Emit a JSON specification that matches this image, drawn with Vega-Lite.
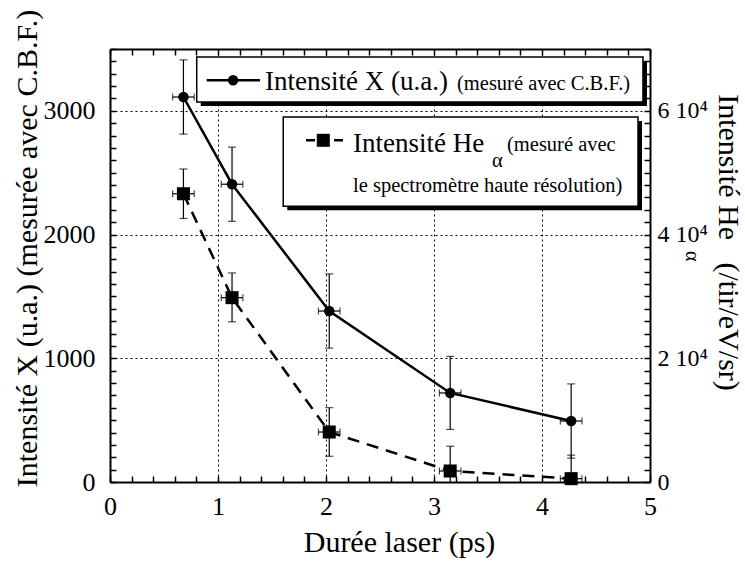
{
  "$schema": "https://vega.github.io/schema/vega-lite/v6.json",
  "width": 540,
  "height": 433,
  "autosize": {"type": "none"},
  "padding": {"left": 110, "top": 49, "right": 95, "bottom": 79},
  "background": "white",
  "config": {
    "font": "Liberation Serif",
    "view": {"stroke": null},
    "axis": {
      "labelFont": "Liberation Serif",
      "titleFont": "Liberation Serif",
      "labelColor": "black",
      "titleColor": "black",
      "titleFontWeight": "normal",
      "domainColor": "black",
      "domainWidth": 2,
      "tickColor": "black",
      "tickWidth": 1.5,
      "labelOverlap": false,
      "labelFlush": false,
      "labelBound": false
    }
  },
  "datasets": {
    "xray": [
      {"x": 0.68, "y": 3112}, {"x": 1.13, "y": 2407}, {"x": 2.03, "y": 1382}, {"x": 3.15, "y": 720}, {"x": 4.27, "y": 493}
    ],
    "xray_v": [
      {"x": 0.68, "y": 2812, "y2": 3412}, {"x": 1.13, "y": 2107, "y2": 2707}, {"x": 2.03, "y": 1082, "y2": 1682},
      {"x": 3.15, "y": 425, "y2": 1015}, {"x": 4.27, "y": 193, "y2": 793}
    ],
    "xray_vcaps": [
      {"x": 0.68, "y": 2812}, {"x": 0.68, "y": 3412}, {"x": 1.13, "y": 2107}, {"x": 1.13, "y": 2707},
      {"x": 2.03, "y": 1082}, {"x": 2.03, "y": 1682}, {"x": 3.15, "y": 425}, {"x": 3.15, "y": 1015},
      {"x": 4.27, "y": 193}, {"x": 4.27, "y": 793}
    ],
    "xray_h": [
      {"x": 0.58, "x2": 0.78, "y": 3112}, {"x": 1.03, "x2": 1.23, "y": 2407}, {"x": 1.93, "x2": 2.13, "y": 1382},
      {"x": 3.05, "x2": 3.25, "y": 720}, {"x": 4.17, "x2": 4.37, "y": 493}
    ],
    "xray_hcaps": [
      {"x": 0.58, "y": 3112}, {"x": 0.78, "y": 3112}, {"x": 1.03, "y": 2407}, {"x": 1.23, "y": 2407},
      {"x": 1.93, "y": 1382}, {"x": 2.13, "y": 1382}, {"x": 3.05, "y": 720}, {"x": 3.25, "y": 720},
      {"x": 4.17, "y": 493}, {"x": 4.37, "y": 493}
    ],
    "hea": [
      {"x": 0.68, "y": 46600}, {"x": 1.13, "y": 29800}, {"x": 2.03, "y": 8080}, {"x": 3.15, "y": 1780}, {"x": 4.27, "y": 540}
    ],
    "hea_v": [
      {"x": 0.68, "y": 42600, "y2": 50600}, {"x": 1.13, "y": 25900, "y2": 33800}, {"x": 2.03, "y": 4160, "y2": 12020},
      {"x": 3.15, "y": -2200, "y2": 5780}, {"x": 4.27, "y": -3260, "y2": 4340}
    ],
    "hea_vcaps": [
      {"x": 0.68, "y": 42600}, {"x": 0.68, "y": 50600}, {"x": 1.13, "y": 25900}, {"x": 1.13, "y": 33800},
      {"x": 2.03, "y": 4160}, {"x": 2.03, "y": 12020}, {"x": 3.15, "y": 5780}, {"x": 4.27, "y": 4340}
    ],
    "hea_h": [
      {"x": 0.58, "x2": 0.78, "y": 46600}, {"x": 1.03, "x2": 1.23, "y": 29800}, {"x": 1.93, "x2": 2.13, "y": 8080},
      {"x": 3.05, "x2": 3.25, "y": 1780}, {"x": 4.17, "x2": 4.37, "y": 540}
    ],
    "hea_hcaps": [
      {"x": 0.58, "y": 46600}, {"x": 0.78, "y": 46600}, {"x": 1.03, "y": 29800}, {"x": 1.23, "y": 29800},
      {"x": 1.93, "y": 8080}, {"x": 2.13, "y": 8080}, {"x": 3.05, "y": 1780}, {"x": 3.25, "y": 1780},
      {"x": 4.17, "y": 540}, {"x": 4.37, "y": 540}
    ],
    "boxes": [
      {"box": "shadow1", "x": 0.84, "x2": 4.972, "y": 3040, "y2": 3404},
      {"box": "shadow2", "x": 1.641, "x2": 4.926, "y": 2197, "y2": 2919}
    ],
    "frames": [
      {"box": "frame1", "x": 0.803, "x2": 4.935, "y": 3072, "y2": 3436},
      {"box": "frame2", "x": 1.604, "x2": 4.889, "y": 2229, "y2": 2951}
    ],
    "keylines": [{"series": "X", "x": 0.895, "x2": 1.389, "y": 3247}],
    "keydash": [{"series": "He", "x": 1.815, "x2": 2.176, "y": 2762}],
    "keycircle": [{"series": "X", "x": 1.14, "y": 3247}],
    "keysquare": [{"series": "He", "x": 1.975, "y": 2762}],
    "bigtext": [
      {"t": "Intensité X (u.a.)", "x": 1.435, "y": 3166},
      {"t": "Intensité He", "x": 2.25, "y": 2668}
    ],
    "smalltext": [
      {"t": "(mesuré avec C.B.F.)", "x": 3.213, "y": 3170},
      {"t": "(mesuré avec", "x": 3.676, "y": 2673},
      {"t": "le spectromètre haute résolution)", "x": 2.25, "y": 2344},
      {"t": "α", "x": 3.537, "y": 2544}
    ],
    "alpha": [{"t": "α", "x": 5.389, "y": 1824}]
  },
  "layer": [
    {
      "data": {"name": "xray"},
      "encoding": {
        "x": {
          "field": "x", "type": "quantitative",
          "scale": {"domain": [0, 5], "nice": false, "zero": false},
          "axis": {
            "orient": "bottom",
            "values": [0,0.2,0.4,0.6,0.8,1,1.2,1.4,1.6,1.8,2,2.2,2.4,2.6,2.8,3,3.2,3.4,3.6,3.8,4,4.2,4.4,4.6,4.8,5],
            "labelExpr": "datum.value % 1 === 0 ? ('' + datum.value) : ''",
            "tickSize": -6,
            "labelPadding": 17,
            "labelFontSize": 26,
            "grid": true,
            "gridDash": [2, 3],
            "gridColor": "black",
            "gridWidth": 1,
            "gridOpacity": {"condition": {"test": "datum.value % 1 === 0 && datum.value > 0 && datum.value < 5", "value": 1}, "value": 0},
            "title": "Durée laser (ps)",
            "titleFontSize": 30,
            "titleX": 289,
            "titleY": 60,
            "titleAlign": "center",
            "titleBaseline": "middle"
          }
        },
        "y": {
          "field": "y", "type": "quantitative",
          "scale": {"domain": [0, 3500], "nice": false, "zero": false},
          "axis": {
            "orient": "left",
            "values": [0,100,200,300,400,500,600,700,800,900,1000,1100,1200,1300,1400,1500,1600,1700,1800,1900,2000,2100,2200,2300,2400,2500,2600,2700,2800,2900,3000,3100,3200,3300,3400,3500],
            "labelExpr": "datum.value % 1000 === 0 ? ('' + datum.value) : ''",
            "tickSize": -6,
            "labelPadding": 21,
            "labelFontSize": 26,
            "grid": true,
            "gridDash": [2, 3],
            "gridColor": "black",
            "gridWidth": 1,
            "gridOpacity": {"condition": {"test": "datum.value % 1000 === 0 && datum.value > 0", "value": 1}, "value": 0},
            "title": "Intensité X (u.a.) (mesurée avec C.B.F.)",
            "titleFontSize": 30,
            "titleAngle": 270,
            "titleX": -83,
            "titleY": 199,
            "titleAlign": "center",
            "titleBaseline": "middle"
          }
        }
      },
      "layer": [
        {"mark": {"type": "line", "color": "black", "strokeWidth": 2.5}},
        {"data": {"name": "xray_v"},
         "mark": {"type": "rule", "color": "black", "strokeWidth": 1.2, "clip": true},
         "encoding": {"y2": {"field": "y2"}}},
        {"data": {"name": "xray_h"},
         "mark": {"type": "rule", "color": "black", "strokeWidth": 1.2},
         "encoding": {"x2": {"field": "x2"}}},
        {"data": {"name": "xray_vcaps"},
         "mark": {"type": "tick", "orient": "horizontal", "color": "black", "size": 8, "thickness": 1.2, "clip": true}},
        {"data": {"name": "xray_hcaps"},
         "mark": {"type": "tick", "orient": "vertical", "color": "black", "size": 7, "thickness": 1.2}},
        {"mark": {"type": "point", "shape": "circle", "filled": true, "color": "black", "size": 110, "opacity": 1}},
        {"data": {"name": "boxes"},
         "mark": {"type": "rect", "color": "black"},
         "encoding": {"x2": {"field": "x2"}, "y2": {"field": "y2"}}},
        {"data": {"name": "frames"},
         "mark": {"type": "rect", "fill": "white", "stroke": "black", "strokeWidth": 1.5},
         "encoding": {"x2": {"field": "x2"}, "y2": {"field": "y2"}}},
        {"data": {"name": "keylines"},
         "mark": {"type": "rule", "color": "black", "strokeWidth": 2.5},
         "encoding": {"x2": {"field": "x2"}}},
        {"data": {"name": "keydash"},
         "mark": {"type": "rule", "color": "black", "strokeWidth": 2.5, "strokeDash": [9, 5]},
         "encoding": {"x2": {"field": "x2"}}},
        {"data": {"name": "keycircle"},
         "mark": {"type": "point", "shape": "circle", "filled": true, "color": "black", "size": 110, "opacity": 1}},
        {"data": {"name": "keysquare"},
         "mark": {"type": "point", "shape": "square", "filled": true, "color": "black", "size": 170, "opacity": 1}},
        {"data": {"name": "bigtext"},
         "mark": {"type": "text", "align": "left", "baseline": "alphabetic", "fontSize": 27, "color": "black"},
         "encoding": {"text": {"field": "t"}}},
        {"data": {"name": "smalltext"},
         "mark": {"type": "text", "align": "left", "baseline": "alphabetic", "fontSize": 20.5, "color": "black"},
         "encoding": {"text": {"field": "t"}}},
        {"data": {"name": "alpha"},
         "mark": {"type": "text", "align": "center", "baseline": "middle", "angle": 90, "fontSize": 20, "color": "black"},
         "encoding": {"text": {"field": "t"}}}
      ]
    },
    {
      "data": {"name": "hea"},
      "encoding": {
        "x": {
          "field": "x", "type": "quantitative",
          "scale": {"domain": [0, 5], "nice": false, "zero": false},
          "axis": {
            "orient": "top",
            "values": [0,0.2,0.4,0.6,0.8,1,1.2,1.4,1.6,1.8,2,2.2,2.4,2.6,2.8,3,3.2,3.4,3.6,3.8,4,4.2,4.4,4.6,4.8,5],
            "labels": false,
            "tickSize": -6,
            "grid": false,
            "title": null
          }
        },
        "y": {
          "field": "y", "type": "quantitative",
          "scale": {"domain": [0, 70000], "nice": false, "zero": false},
          "axis": {
            "orient": "right",
            "values": [0,2000,4000,6000,8000,10000,12000,14000,16000,18000,20000,22000,24000,26000,28000,30000,32000,34000,36000,38000,40000,42000,44000,46000,48000,50000,52000,54000,56000,58000,60000,62000,64000,66000,68000,70000],
            "labelExpr": "datum.value === 0 ? '0' : (datum.value % 20000 === 0 ? (datum.value / 10000) + ' 10⁴' : '')",
            "tickSize": -6,
            "labelPadding": 13,
            "labelFontSize": 24,
            "grid": false,
            "title": "Intensité He\u00a0\u00a0\u00a0(/tir/eV/sr)",
            "titleFontSize": 30,
            "titleAngle": 90,
            "titleX": 77,
            "titleY": 193,
            "titleAlign": "center",
            "titleBaseline": "middle"
          }
        }
      },
      "layer": [
        {"mark": {"type": "line", "color": "black", "strokeWidth": 2.5, "strokeDash": [12, 8]}},
        {"data": {"name": "hea_v"},
         "mark": {"type": "rule", "color": "black", "strokeWidth": 1.2, "clip": true},
         "encoding": {"y2": {"field": "y2"}}},
        {"data": {"name": "hea_h"},
         "mark": {"type": "rule", "color": "black", "strokeWidth": 1.2},
         "encoding": {"x2": {"field": "x2"}}},
        {"data": {"name": "hea_vcaps"},
         "mark": {"type": "tick", "orient": "horizontal", "color": "black", "size": 8, "thickness": 1.2, "clip": true}},
        {"data": {"name": "hea_hcaps"},
         "mark": {"type": "tick", "orient": "vertical", "color": "black", "size": 7, "thickness": 1.2}},
        {"mark": {"type": "point", "shape": "square", "filled": true, "color": "black", "size": 170, "opacity": 1}}
      ]
    }
  ],
  "resolve": {"scale": {"y": "independent"}, "axis": {"x": "independent", "y": "independent"}}
}
